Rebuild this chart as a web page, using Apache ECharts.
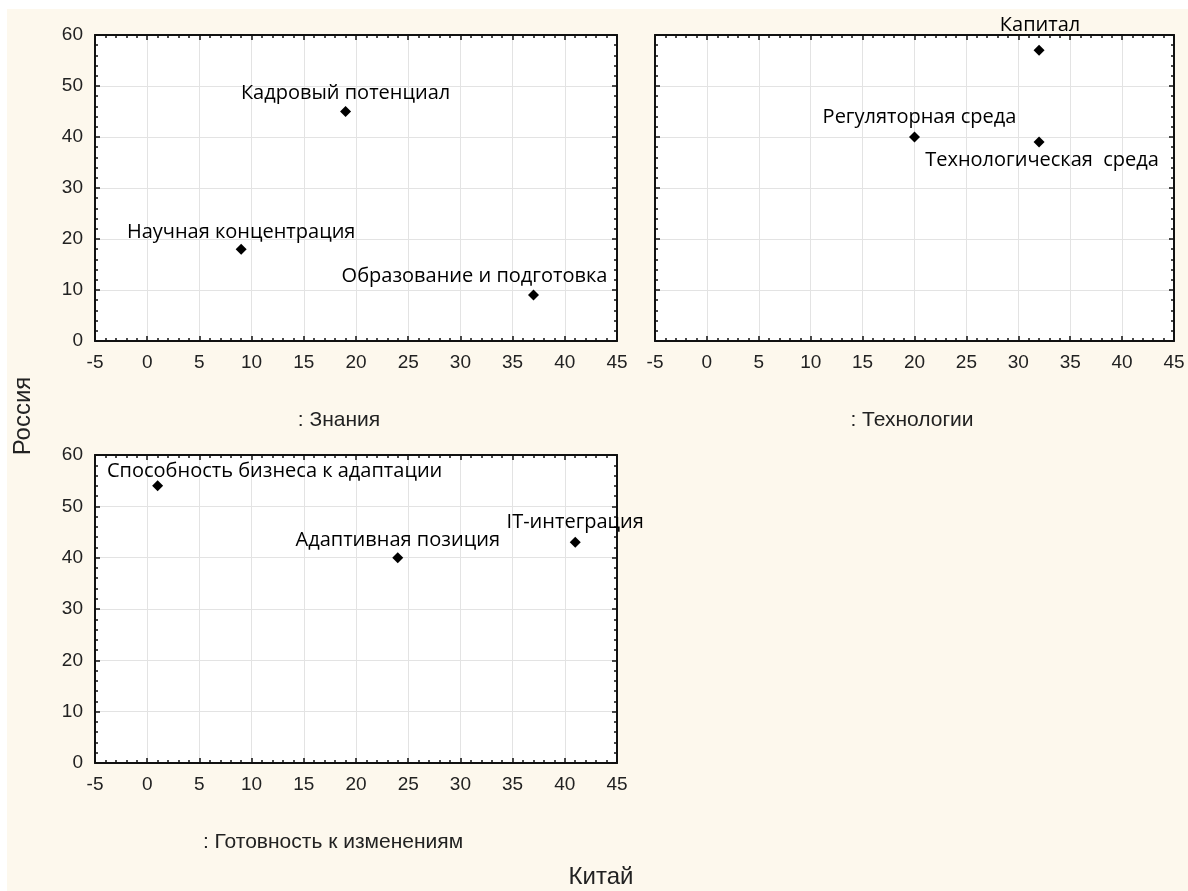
<!DOCTYPE html>
<html><head><meta charset="utf-8">
<script src="https://cdn.jsdelivr.net/npm/echarts@6/dist/echarts.min.js"></script>
<style>
html,body{margin:0;padding:0;background:#fff;}
#bg{position:absolute;left:7px;top:9px;right:0;bottom:0;background:#fdf8ed;}
#c{position:absolute;left:0;top:0;width:1188px;height:891px;}
</style>
</head><body><div id="bg"></div><div id="c"></div>
<script>
// ---- data ----
const xTickLabels = ['-5','0','5','10','15','20','25','30','35','40','45'];
const yTickLabels = ['0','10','20','30','40','50','60'];
const panelTitles = [': Знания', ': Технологии', ': Готовность к изменениям'];
const xAxisTitle = 'Китай';
const yAxisTitle = 'Россия';

const knowledgeNames = ['Кадровый потенциал', 'Научная концентрация', 'Образование и подготовка'];
const knowledgeChina = [19, 9, 37];
const knowledgeRussia = [45, 18, 9];

const techNames = ['Капитал', 'Регуляторная среда', 'Технологическая  среда'];
const techChina = [32, 20, 32];
const techRussia = [57, 40, 39];

const changeNames = ['Способность бизнеса к адаптации', 'Адаптивная позиция', 'IT-интеграция'];
const changeChina = [1, 24, 41];
const changeRussia = [54, 40, 43];

// ---- styling (label offsets relative to marker centre, px) ----
const labelOffsets = [
  [[0, -18], [0, -17], [-59, -19]],
  [[1, -25], [5, -20], [3, 18]],
  [[117, -15], [0, -17], [0, -20]]
];
const grids = [
  {left: 95, top: 35, width: 522, height: 306},
  {left: 655, top: 35, width: 519, height: 306},
  {left: 95, top: 455, width: 522, height: 308}
];

const xMin = Number(xTickLabels[0]), xMax = Number(xTickLabels[xTickLabels.length-1]);
const xStep = Number(xTickLabels[1]) - Number(xTickLabels[0]);
const yMin = Number(yTickLabels[0]), yMax = Number(yTickLabels[yTickLabels.length-1]);
const yStep = Number(yTickLabels[1]) - Number(yTickLabels[0]);

const lineCol = '#111';
const tickFont = {fontFamily: 'Liberation Sans, Arial, sans-serif', fontSize: 19, color: '#222'};

function axisBase(showLabel, split, pos) {
  return {
    type: 'value', position: pos,
    axisLine: {show: true, onZero: false, lineStyle: {color: lineCol, width: 2}},
    axisTick: {show: true, inside: true, length: 5, lineStyle: {color: lineCol, width: 1.5}},
    minorTick: {show: true, splitNumber: 5, length: 3, lineStyle: {color: lineCol, width: 1.5}},
    splitLine: {show: split, lineStyle: {color: '#e3e3e3', width: 1}},
    minorSplitLine: {show: false},
    axisLabel: Object.assign({show: showLabel, margin: 12}, tickFont)
  };
}

const xAxes = [], yAxes = [];
const showY = [true, false, true];
grids.forEach((g, i) => {
  xAxes.push(Object.assign(axisBase(true, true, 'bottom'), {gridIndex: i, min: xMin, max: xMax, interval: xStep}));
  xAxes.push(Object.assign(axisBase(false, false, 'top'), {gridIndex: i, min: xMin, max: xMax, interval: xStep}));
  yAxes.push(Object.assign(axisBase(showY[i], true, 'left'), {gridIndex: i, min: yMin, max: yMax, interval: yStep}));
  yAxes.push(Object.assign(axisBase(false, false, 'right'), {gridIndex: i, min: yMin, max: yMax, interval: yStep}));
});

const panels = [
  [knowledgeNames, knowledgeChina, knowledgeRussia],
  [techNames, techChina, techRussia],
  [changeNames, changeChina, changeRussia]
];

const series = panels.map((p, i) => ({
  type: 'scatter',
  xAxisIndex: i * 2, yAxisIndex: i * 2,
  symbol: 'diamond', symbolSize: 11,
  itemStyle: {color: '#000', opacity: 1},
  emphasis: {disabled: true},
  z: 5,
  data: p[0].map((n, k) => ({
    name: n, value: [p[1][k], p[2][k]],
    label: {show: true, position: 'inside', offset: labelOffsets[i][k], formatter: '{b}',
      fontFamily: 'Open Sans, Noto Sans, sans-serif', fontSize: 20, color: '#000', opacity: 1}
  }))
}));

const nameFont = 'Liberation Sans, Arial, sans-serif';
function txt(text, size, x, y, rot) {
  return {type: 'text', x: x, y: y, rotation: rot || 0,
    style: {text: text, font: size + 'px ' + nameFont, fill: '#222', textAlign: 'center', textVerticalAlign: 'middle', x: 0, y: 0}};
}
const chart = echarts.init(document.getElementById('c'), null, {renderer: 'canvas'});
chart.setOption({
  animation: false,
  grid: grids.map(g => Object.assign({show: true, backgroundColor: '#fff', borderWidth: 0, containLabel: false}, g)),
  xAxis: xAxes,
  yAxis: yAxes,
  series: series,
  graphic: [
    txt(panelTitles[0], 21, 339, 420),
    txt(panelTitles[1], 21, 912, 420),
    txt(panelTitles[2], 21, 333, 842),
    txt(xAxisTitle, 24, 601, 877),
    txt(yAxisTitle, 24, 23, 416, Math.PI / 2)
  ]
});
</script>
</body></html>
